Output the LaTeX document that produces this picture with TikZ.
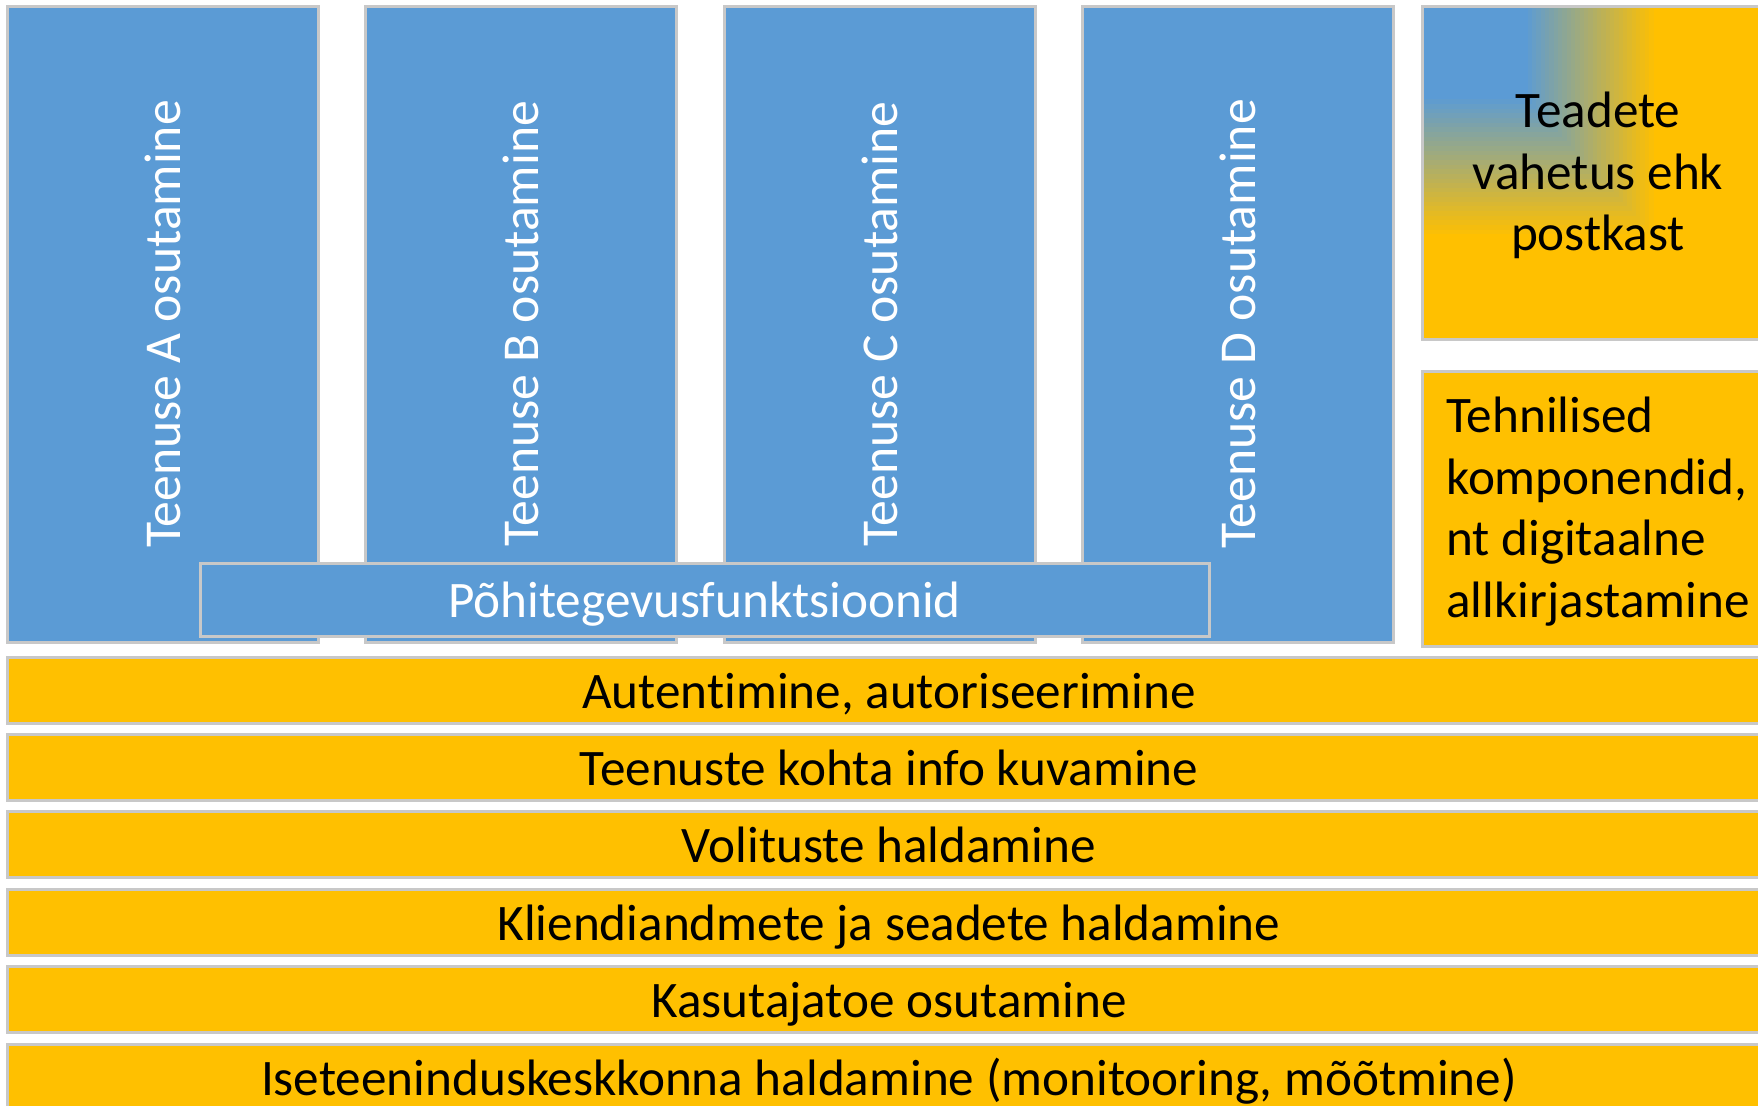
\documentclass[tikz,border=0pt]{standalone}
\usepackage{fontspec}
\setmainfont{Carlito}[Ligatures=NoCommon, Contextuals=NoAlternate]
\definecolor{svcblue}{HTML}{5B9BD5}
\definecolor{svcgold}{HTML}{FFC000}
\definecolor{edgegray}{HTML}{C8C8C8}
\begin{document}
\begin{tikzpicture}[x=0.5pt, y=-0.5pt,
  box/.style={draw=edgegray, line width=1.5pt, inner sep=0pt, font=\fontsize{25.6}{30.75}\selectfont},
  svc/.style={box, fill=svcblue, text=white, rotate=90, minimum width=318pt, minimum height=155.5pt,
    font=\fontsize{25.85}{30.75}\selectfont},
  band/.style={box, text height=24pt, text depth=6pt},
  layer/.style={band, fill=svcgold, minimum width=882pt, minimum height=33pt},
  side/.style={box, fill=svcgold, minimum width=176pt}]
  \useasboundingbox (0,0) rectangle (1758,1105);
  \fill[white] (0,0) rectangle (1758,1105);
  \clip (0,0) rectangle (1758,1105);

  \foreach \n [count=\i from 0] in {A,B,C,D}
    \node[svc] (svc\n) at (162.5+358.5*\i, 324) {Teenuse \n{} osutamine};
  \node[band, fill=svcblue, text=white, minimum width=504.5pt, minimum height=36.5pt] (core) at (704.5, 599.5) {Põhitegevusfunktsioonid};

  \foreach \t [count=\i from 0] in {{Autentimine, autoriseerimine}, {Teenuste kohta info kuvamine},
      {Volituste haldamine}, {Kliendiandmete ja seadete haldamine}, {Kasutajatoe osutamine},
      {Iseteeninduskeskkonna haldamine (monitooring, mõõtmine)}}
    \node[layer] (layer\i) at (889, 690+77.4*\i) {\t};

  \node[side, minimum height=166.5pt, align=center,
    path picture={
      \foreach \k in {0,...,30} {
        \pgfmathsetmacro\p{100*\k/30}
        \fill[svcblue!\p!svcgold] (path picture bounding box.north west)
          rectangle ++({352*(0.67-0.37*\k/30)}, {333*(0.70-0.42*\k/30)});
      }}] (inbox) at (1598, 172.5) {\rule{0pt}{21pt}Teadete\\vahetus ehk\\postkast};
  \node[side, minimum height=137.5pt, align=left] (tech) at (1598, 508.5) {\rule{0pt}{21pt}Tehnilised\\komponendid,\\nt digitaalne\\allkirjastamine};
\end{tikzpicture}
\end{document}
